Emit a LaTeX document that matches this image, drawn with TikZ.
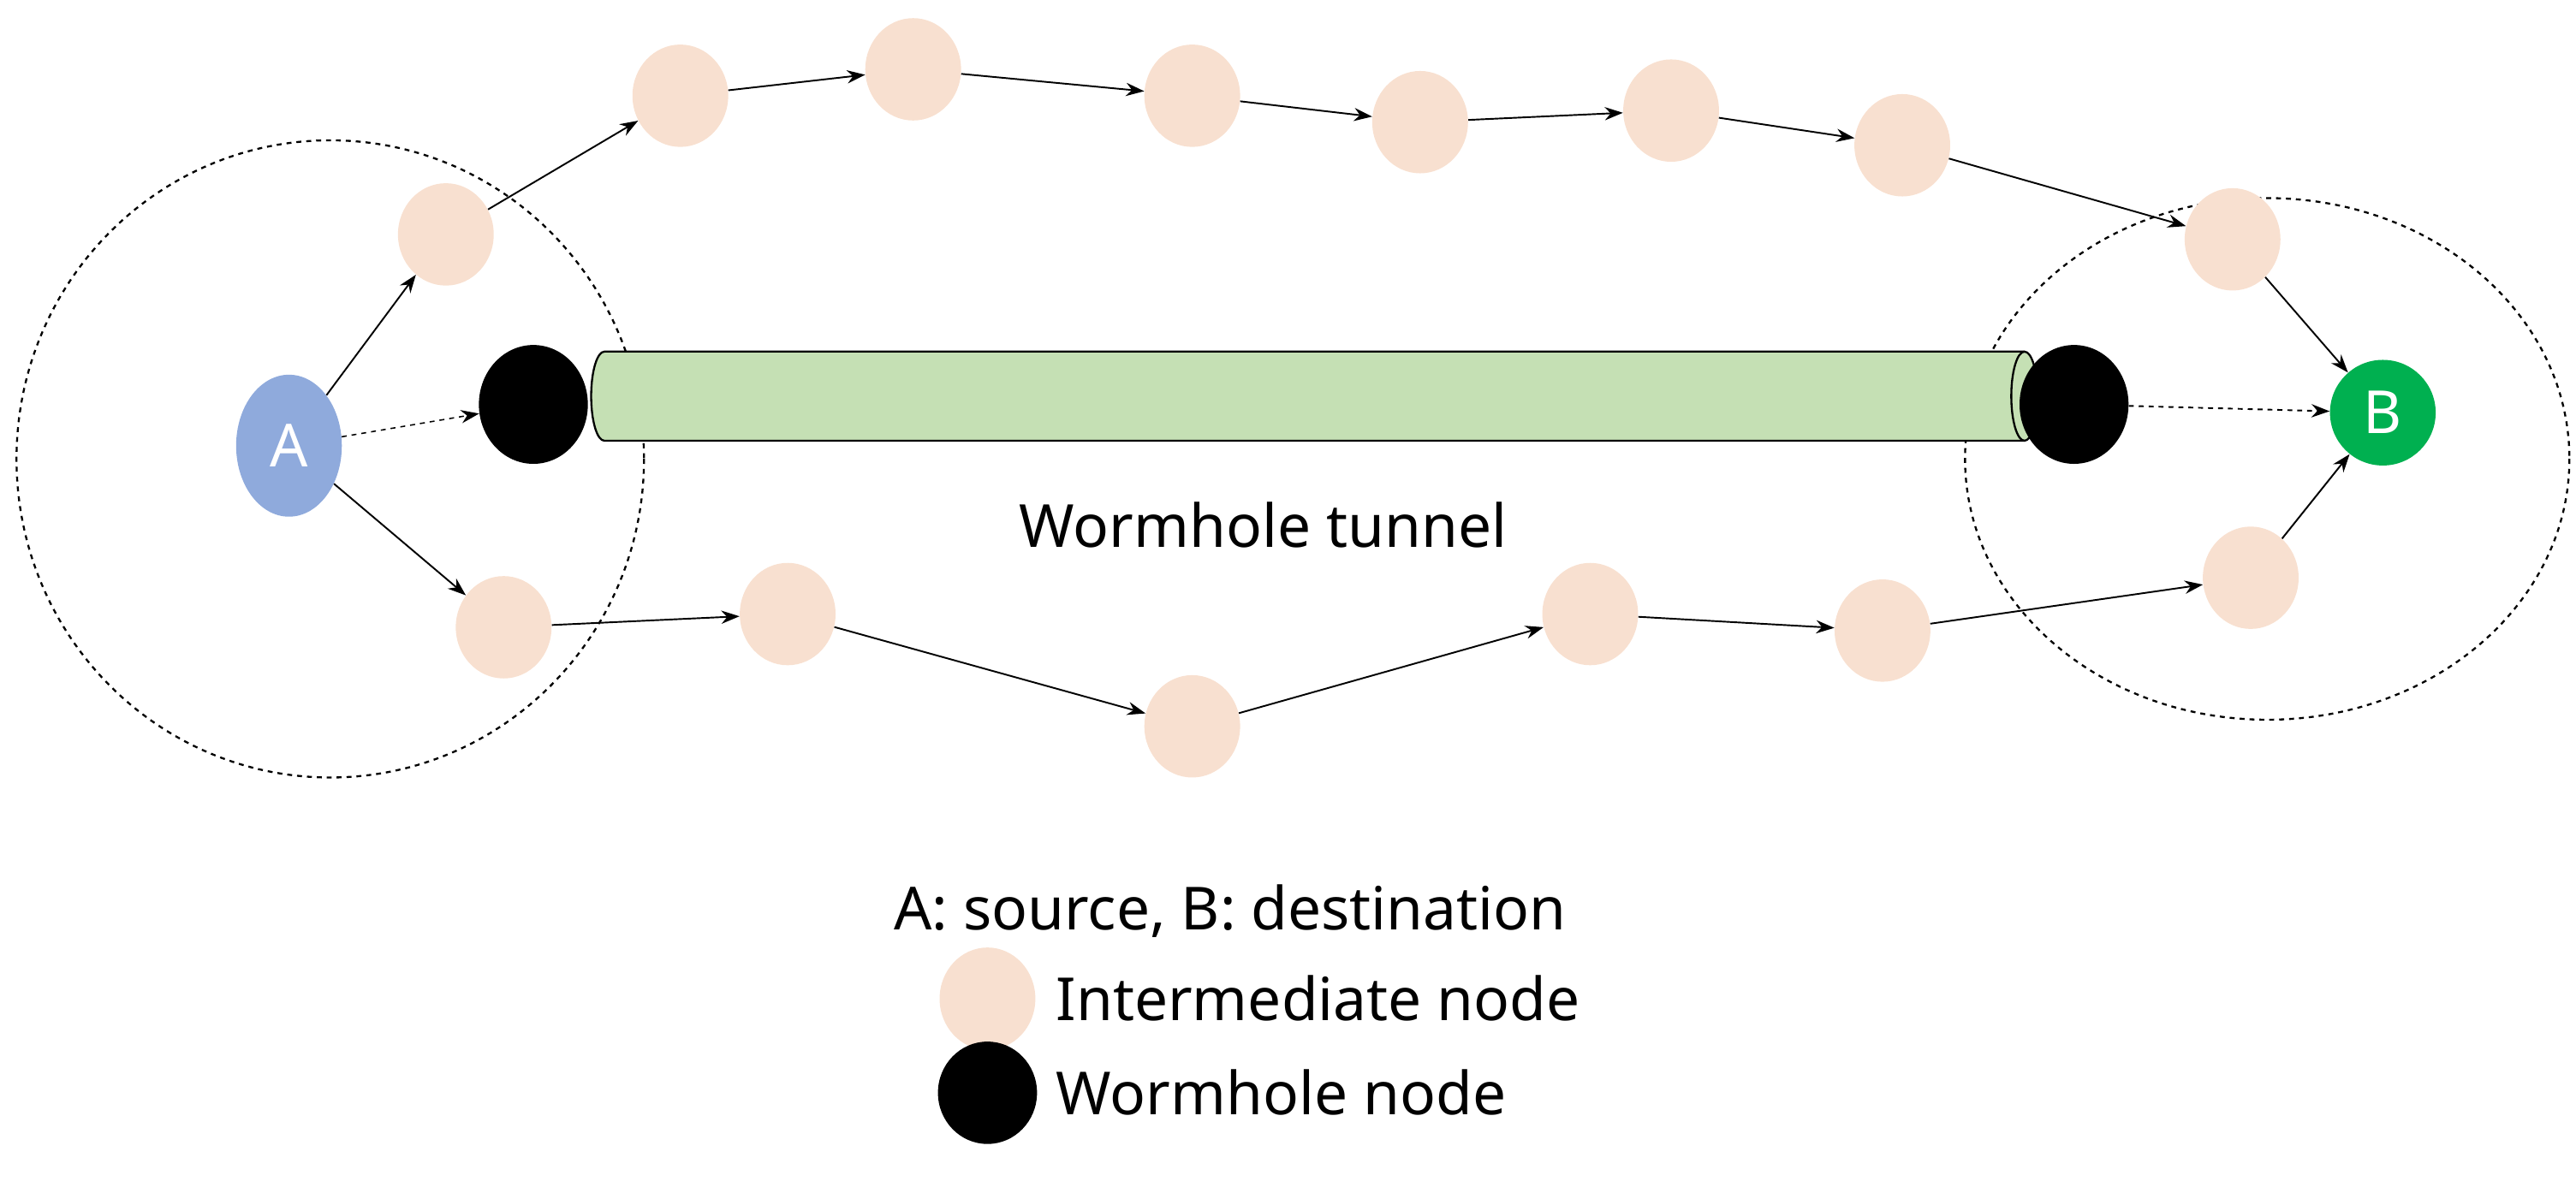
\documentclass[tikz,border=0pt]{standalone}
\usepackage{fontspec}
\setmainfont{Noto Sans}
\usetikzlibrary{arrows.meta,shapes.geometric}
\definecolor{inter}{HTML}{F8E0D0}
\definecolor{srcA}{HTML}{8FAADC}
\definecolor{dstB}{HTML}{00B050}
\definecolor{tun}{HTML}{C5E0B4}
\begin{document}
\begin{tikzpicture}[x=1pt,y=-1pt,
  im/.style={ellipse,fill=inter,minimum width=58pt,minimum height=62pt,inner sep=0},
  wh/.style={ellipse,fill=black,minimum width=66pt,minimum height=72pt,inner sep=0},
  ed/.style={-{Stealth[length=11pt,width=8pt]},line width=1pt},
  big/.style={font=\fontsize{36}{42}\selectfont}]
\useasboundingbox (0,0) rectangle (1560,719);
\draw[dashed,line width=1.2pt] (200,278) ellipse [x radius=190,y radius=193];
\draw[dashed,line width=1.2pt] (1373,278) ellipse [x radius=183,y radius=158];
% tunnel
\draw[line width=1.2pt,fill=tun] (366,213) -- (1226,213) arc[start angle=-90,end angle=90,x radius=8,y radius=27] -- (366,267) arc[start angle=90,end angle=270,x radius=8,y radius=27] -- cycle;
\draw[line width=1.2pt] (1226,213) arc[start angle=-90,end angle=-270,x radius=8,y radius=27];
\node[ellipse,fill=srcA,minimum width=64pt,minimum height=86pt,inner sep=0,big,text=white] (A) at (175,270) {A};
\node[circle,fill=dstB,minimum size=64pt,inner sep=0,big,text=white] (B) at (1443,250) {B};
\node[wh] (w1) at (323,245) {};
\node[wh] (w2) at (1256,245) {};
\node[im] (t1) at (270,142) {};
\node[im] (t2) at (412,58) {};
\node[im] (t3) at (553,42) {};
\node[im] (t4) at (722,58) {};
\node[im] (t5) at (860,74) {};
\node[im] (t6) at (1012,67) {};
\node[im] (t7) at (1152,88) {};
\node[im] (t8) at (1352,145) {};
\node[im] (b1) at (305,380) {};
\node[im] (b2) at (477,372) {};
\node[im] (b3) at (722,440) {};
\node[im] (b4) at (963,372) {};
\node[im] (b5) at (1140,382) {};
\node[im] (b6) at (1363,350) {};
\draw[ed] (A) -- (t1);
\draw[ed] (t1) -- (t2);
\draw[ed] (t2) -- (t3);
\draw[ed] (t3) -- (t4);
\draw[ed] (t4) -- (t5);
\draw[ed] (t5) -- (t6);
\draw[ed] (t6) -- (t7);
\draw[ed] (t7) -- (t8);
\draw[ed] (t8) -- (B);
\draw[ed] (A) -- (b1);
\draw[ed] (b1) -- (b2);
\draw[ed] (b2) -- (b3);
\draw[ed] (b3) -- (b4);
\draw[ed] (b4) -- (b5);
\draw[ed] (b5) -- (b6);
\draw[ed] (b6) -- (B);
\draw[ed,dashed,line width=0.8pt] (A) -- (w1);
\draw[ed,dashed] (w2) -- (B);
\node[big] (tl) at (765,318) {Wormhole tunnel};
\node[big] (lg) at (745,552) {A: source, B: destination};
\node[im] (li) at (598,605) {};
\node[wh,minimum width=60pt,minimum height=62pt] (lw) at (598,662) {};
\node[big,anchor=west] (lit) at (636,605) {Intermediate node};
\node[big,anchor=west] (lwt) at (636,662) {Wormhole node};
\end{tikzpicture}
\end{document}
